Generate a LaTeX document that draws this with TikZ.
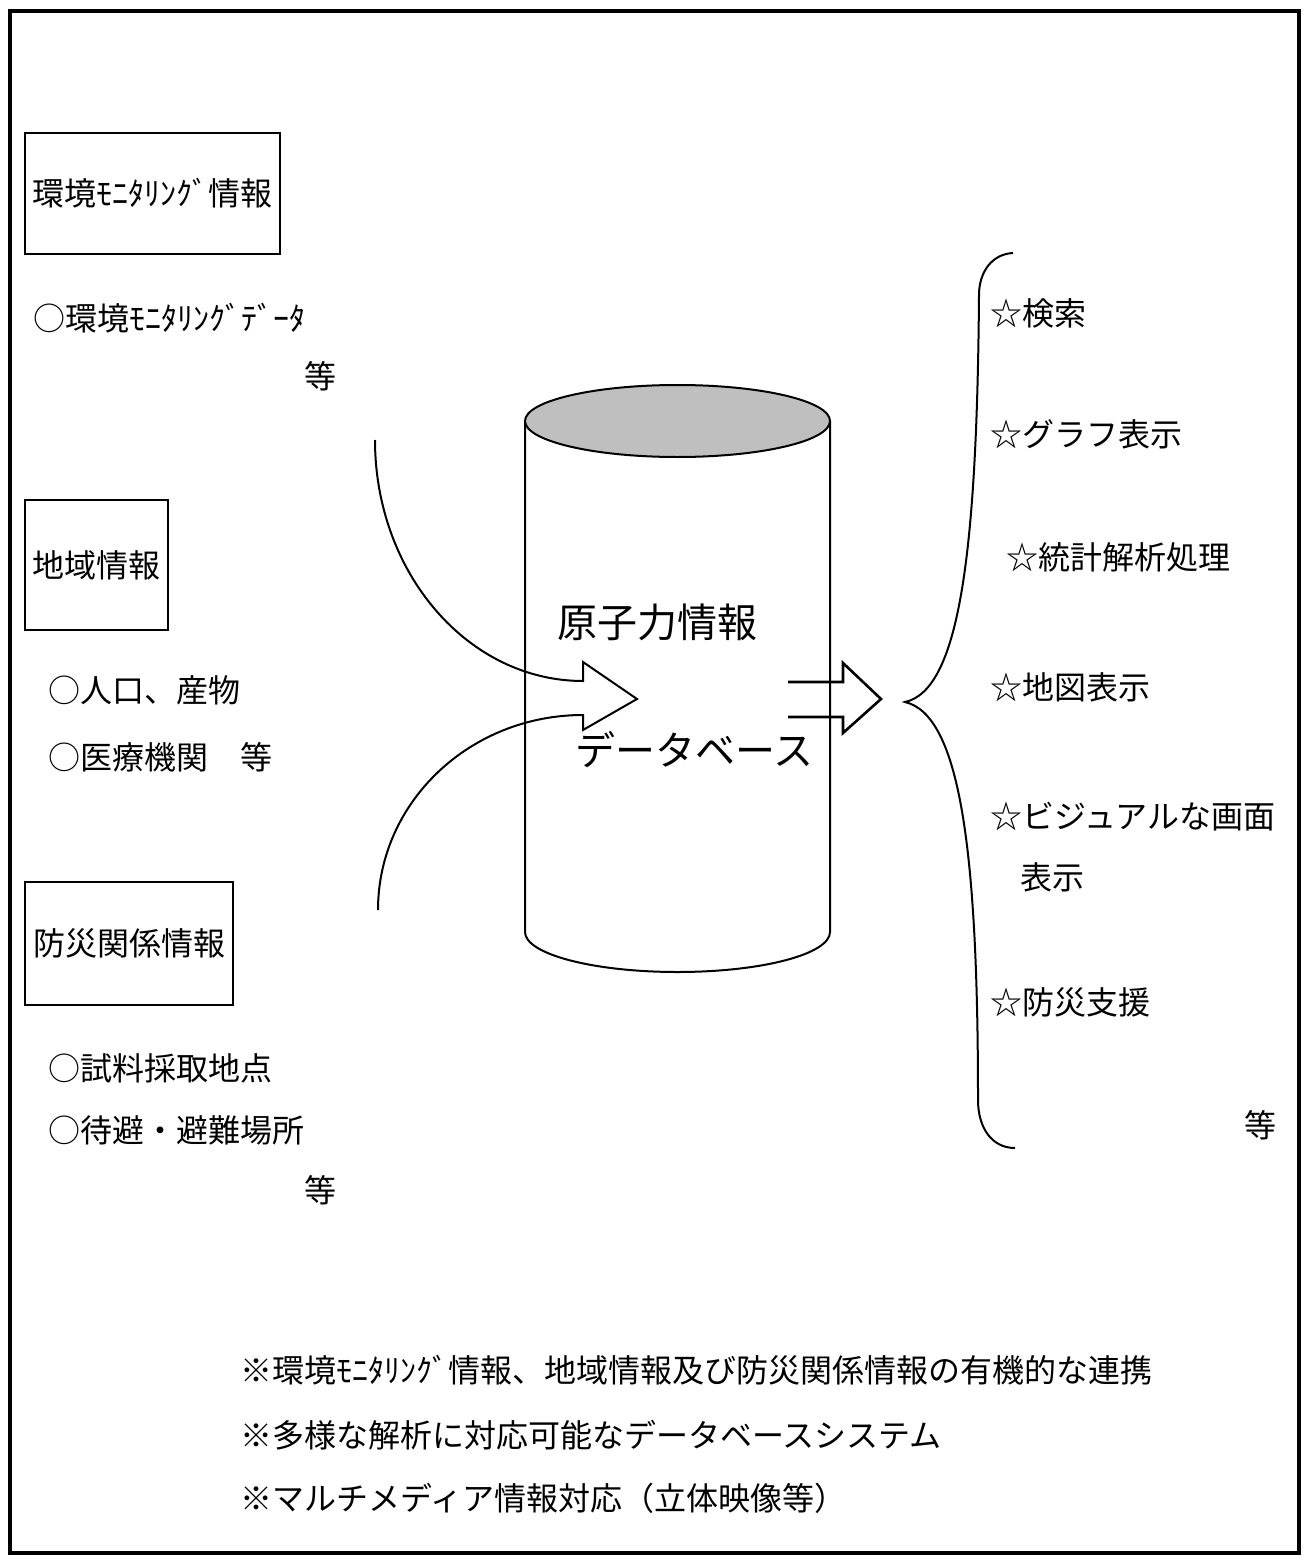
\documentclass[tikz,border=0pt]{standalone}
\usepackage{fontspec}
\setmainfont{Noto Sans CJK JP}
\begin{document}
\begin{tikzpicture}[x=0.5pt,y=-0.5pt,
  txt/.style={inner sep=0pt,font=\fontsize{16pt}{18pt}\selectfont},
  big/.style={inner sep=0pt,font=\fontsize{20pt}{22pt}\selectfont},
  bx/.style={draw,line width=1pt,inner sep=0pt},
  ln/.style={line width=1pt,line join=miter}]
\useasboundingbox (0,0) rectangle (1303,1557);
% outer frame
\draw[line width=1.6pt] (10,11) rectangle (1299,1553);

% left boxes (sizes in pt = px/2)
\node[bx,minimum width=127.5pt,minimum height=60.5pt] (b1) at (152.5,193.5) {};
\node[txt] (b1t) at (b1.center) {環境ﾓﾆﾀﾘﾝｸﾞ情報};
\node[bx,minimum width=71.5pt,minimum height=65pt] (b2) at (96.5,565) {};
\node[txt] (b2t) at (b2.center) {地域情報};
\node[bx,minimum width=104pt,minimum height=61.5pt] (b3) at (129,943.5) {};
\node[txt] (b3t) at (b3.center) {防災関係情報};

% left lists
\node[txt,anchor=west] (l1) at (33,318) {○環境ﾓﾆﾀﾘﾝｸﾞﾃﾞｰﾀ};
\node[txt] (l1e) at (320,376) {等};
\node[txt,anchor=west] (l2) at (48,690) {○人口、産物};
\node[txt,anchor=west] (l3) at (48,757) {○医療機関　等};
\node[txt,anchor=west] (l4) at (48,1068) {○試料採取地点};
\node[txt,anchor=west] (l5) at (48,1130) {○待避・避難場所};
\node[txt] (l5e) at (320,1190) {等};

% cylinder
\coordinate (cyltop) at (677.5,421);
\coordinate (cylbot) at (677.5,932);
\draw[ln] (525,421) -- (525,932) arc[start angle=180,end angle=360,x radius=152.5,y radius=-40] -- (830,421);
\draw[ln,fill=gray!50] (cyltop) ellipse[x radius=152.5,y radius=36];
\node[big,anchor=west] (c1) at (557,622) {原子力情報};
\node[big,anchor=west] (c2) at (575,750) {データベース};

% incoming hollow arrow
\coordinate (inA) at (375,440);
\coordinate (inB) at (378,910);
\coordinate (tipL) at (637,699);
\draw[ln] (inA) .. controls (375,573) and (468,681) .. (583,681)
  -- (583,662) -- (tipL) -- (583,730) -- (583,715)
  .. controls (470,715) and (378,802) .. (inB);

% outgoing hollow arrow
\coordinate (tipR) at (881,699);
\draw[line width=1.3pt,line join=miter] (788,682) -- (843,682) -- (843,663) -- (tipR) -- (843,733) -- (843,717) -- (788,717);

% brace
\coordinate (brtop) at (1013,253);
\coordinate (brtip) at (905,702);
\coordinate (brbot) at (1015,1148);
\draw[ln] (brtop) .. controls (992,254) and (979,272) .. (979,295)
  .. controls (977,550) and (960,690) .. (brtip)
  .. controls (960,715) and (978,850) .. (978,1100)
  .. controls (978,1128) and (992,1148) .. (brbot);

% right list
\node[txt,anchor=west] (r1) at (990,313) {☆検索};
\node[txt,anchor=west] (r2) at (990,434) {☆グラフ表示};
\node[txt,anchor=west] (r3) at (1006,557) {☆統計解析処理};
\node[txt,anchor=west] (r4) at (990,687) {☆地図表示};
\node[txt,anchor=west] (r5) at (990,817) {☆ビジュアルな画面};
\node[txt,anchor=west] (r5b) at (1020,877) {表示};
\node[txt,anchor=west] (r6) at (990,1002) {☆防災支援};
\node[txt] (r7) at (1260,1125) {等};

% bottom notes
\node[txt,anchor=west] (n1) at (240,1370) {※環境ﾓﾆﾀﾘﾝｸﾞ情報、地域情報及び防災関係情報の有機的な連携};
\node[txt,anchor=west] (n2) at (240,1435) {※多様な解析に対応可能なデータベースシステム};
\node[txt,anchor=west] (n3) at (240,1498) {※マルチメディア情報対応（立体映像等）};
\end{tikzpicture}
\end{document}
